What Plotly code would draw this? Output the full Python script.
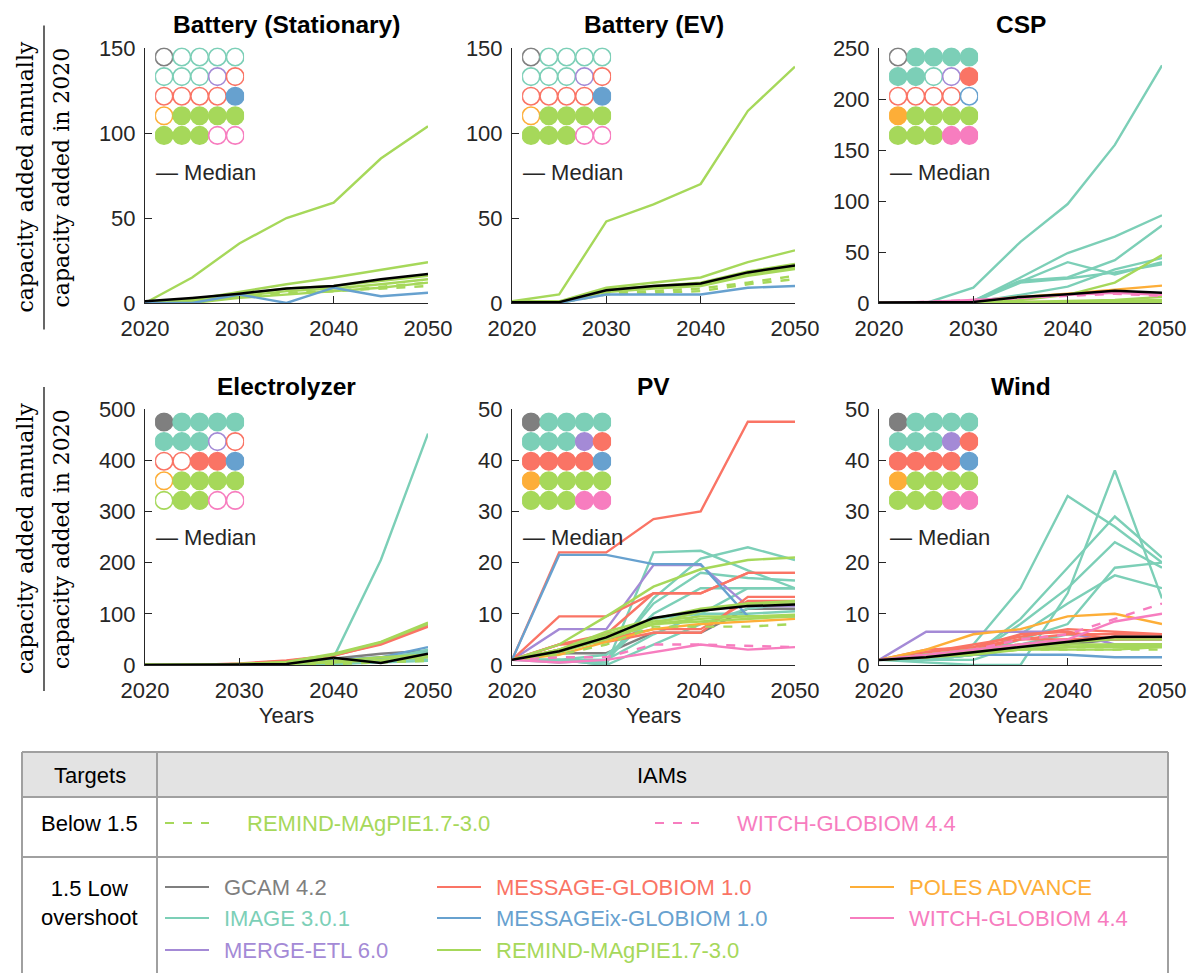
import plotly.graph_objects as go

W, H = 1189, 973
YEARS = [2020, 2025, 2030, 2035, 2040, 2045, 2050]

COLORS = {
    "GCAM": "#7f7f7f", "IMAGE": "#7ccfb7", "MERGE": "#a48ad6", "MESSAGE": "#fa7465",
    "MESSAGEix": "#67a1cf", "POLES": "#fdae38", "REMIND": "#a6d85a", "WITCH": "#f77dbf",
}

GRID_MODELS = [
    ["GCAM", "IMAGE", "IMAGE", "IMAGE", "IMAGE"],
    ["IMAGE", "IMAGE", "IMAGE", "MERGE", "MESSAGE"],
    ["MESSAGE", "MESSAGE", "MESSAGE", "MESSAGE", "MESSAGEix"],
    ["POLES", "REMIND", "REMIND", "REMIND", "REMIND"],
    ["REMIND", "REMIND", "REMIND", "WITCH", "WITCH"],
]
FILL_BAT_STAT = [[0, 0, 0, 0, 0], [0, 0, 0, 0, 0], [0, 0, 0, 0, 1], [0, 1, 1, 1, 1], [1, 1, 1, 0, 0]]
FILL_BAT_EV = [[0, 0, 0, 0, 0], [0, 0, 0, 0, 0], [0, 0, 0, 0, 1], [0, 1, 1, 1, 1], [1, 1, 1, 0, 0]]
FILL_CSP = [[0, 1, 1, 1, 1], [1, 1, 0, 0, 1], [0, 0, 0, 0, 0], [1, 1, 1, 1, 1], [1, 1, 1, 1, 1]]
FILL_ELEC = [[1, 1, 1, 1, 1], [1, 1, 1, 0, 0], [0, 0, 1, 1, 1], [0, 1, 1, 1, 1], [0, 1, 1, 0, 0]]
FILL_PV = [[1, 1, 1, 1, 1]] * 5
FILL_WIND = [[1, 1, 1, 1, 1]] * 5

BAT_STAT_LINES = [
    ("REMIND", "solid", [0, 15, 35, 50, 59, 85, 104]),
    ("REMIND", "solid", [0, 2, 6.5, 11, 15, 19.5, 24]),
    ("REMIND", "solid", [0, 1, 5, 8.5, 10, 13, 16]),
    ("REMIND", "solid", [0, 0.5, 4, 7, 8.5, 11, 14]),
    ("REMIND", "solid", [0, 0, 3, 5, 7, 9, 12]),
    ("REMIND", "dash", [0, 0.5, 4, 6, 7, 8.5, 10]),
    ("REMIND", "dash", [0, 0.5, 3.5, 5.5, 7, 9.5, 12]),
    ("MESSAGEix", "solid", [0, 0, 5, 0, 9, 4, 6]),
]
BAT_STAT_MEDIAN = [1, 3, 5.5, 8.5, 10, 14, 17]

BAT_EV_LINES = [
    ("REMIND", "solid", [1, 5, 48, 58, 70, 113, 139]),
    ("REMIND", "solid", [1, 1, 9, 12, 15, 24, 31]),
    ("REMIND", "solid", [0, 0, 8, 10, 12, 18.5, 23]),
    ("REMIND", "solid", [0, 0, 7, 9, 11, 17, 21]),
    ("REMIND", "solid", [0, 0, 6.5, 8.5, 10, 16, 20]),
    ("REMIND", "dash", [0, 0, 6, 7, 8.5, 12, 16]),
    ("REMIND", "dash", [0, 0, 5, 6, 7, 11, 14]),
    ("MESSAGEix", "solid", [0, 0, 5, 5, 5, 9, 10]),
]
BAT_EV_MEDIAN = [0.5, 0.5, 7.5, 10, 11.5, 18, 22]

CSP_LINES = [
    ("IMAGE", "solid", [0, 0, 15, 60, 97, 155, 233]),
    ("IMAGE", "solid", [0, 0, 2, 25, 49, 65, 86]),
    ("IMAGE", "solid", [0, 0, 2, 22, 25, 42, 76]),
    ("IMAGE", "solid", [0, 0, 2, 21, 40, 28, 40]),
    ("IMAGE", "solid", [0, 0, 1, 20, 24, 30, 38]),
    ("IMAGE", "solid", [0, 0, 1, 8, 16, 33, 44]),
    ("MESSAGE", "solid", [0, 0, 0, 1, 1, 2, 2]),
    ("POLES", "solid", [0, 0, 2, 6, 9, 13, 17]),
    ("REMIND", "solid", [0, 0, 0, 3, 8, 20, 47]),
    ("REMIND", "solid", [0, 0, 0, 1, 2, 3, 6]),
    ("REMIND", "solid", [0, 0, 0, 0, 1, 2, 3]),
    ("REMIND", "solid", [0, 0, 0, 0, 1, 1, 2]),
    ("REMIND", "solid", [0, 0, 0, 0, 0, 1, 1]),
    ("REMIND", "dash", [0, 0, 0, 0, 1, 1, 2]),
    ("REMIND", "dash", [0, 0, 0, 0, 0, 1, 1]),
    ("WITCH", "solid", [0, 1, 3, 5, 8, 10, 8]),
    ("WITCH", "dash", [0, 1, 3, 5, 7, 9, 7]),
]
CSP_MEDIAN = [0.5, 0.5, 1, 6, 8.5, 12, 10]

ELEC_LINES = [
    ("GCAM", "solid", [0, 0, 1, 3, 13, 22, 28]),
    ("IMAGE", "solid", [0, 0, 0.5, 1, 15, 205, 452]),
    ("IMAGE", "solid", [0, 0, 0, 1, 5, 10, 30]),
    ("IMAGE", "solid", [0, 0, 0, 0, 3, 8, 20]),
    ("IMAGE", "solid", [0, 0, 0, 1, 4, 15, 25]),
    ("IMAGE", "solid", [0, 0, 1, 2, 6, 12, 10]),
    ("IMAGE", "solid", [0, 0, 0, 0, 2, 5, 8]),
    ("IMAGE", "solid", [0, 0, 0, 1, 3, 6, 15]),
    ("MESSAGE", "solid", [0, 0, 2, 8, 18, 42, 78]),
    ("MESSAGE", "solid", [0, 0, 3, 9, 19, 40, 75]),
    ("MESSAGEix", "solid", [0, 0, 1, 2, 10, 15, 35]),
    ("REMIND", "solid", [0, 0, 2, 6, 22, 45, 83]),
    ("REMIND", "solid", [0, 0, 2, 5, 20, 44, 80]),
    ("REMIND", "solid", [0, 0, 1, 3, 8, 15, 20]),
    ("REMIND", "solid", [0, 0, 1, 2, 5, 10, 15]),
    ("REMIND", "dash", [0, 0, 1, 2, 4, 8, 10]),
    ("REMIND", "dash", [0, 0, 0, 1, 2, 5, 8]),
]
ELEC_MEDIAN = [0, 0, 1, 2, 14, 4, 22]

PV_LINES = [
    ("GCAM", "solid", [1, 2.3, 2.3, 6.3, 6.3, 11, 11]),
    ("IMAGE", "solid", [1, 1, 0, 22, 22.3, 18.5, 15]),
    ("IMAGE", "solid", [1, 1, 0.5, 13, 20.8, 23, 20.5]),
    ("IMAGE", "solid", [1, 1, 1, 12, 18, 17, 16.5]),
    ("IMAGE", "solid", [1, 0.5, 1, 10, 15, 15, 15]),
    ("IMAGE", "solid", [1, 1, 1, 6, 10, 15, 15]),
    ("IMAGE", "solid", [1, 1, 0, 4, 8, 11, 12]),
    ("IMAGE", "solid", [1, 1, 2, 9, 10, 10, 10.5]),
    ("MERGE", "solid", [1, 7, 7, 19.5, 19.5, 11.5, 11.5]),
    ("MESSAGE", "solid", [1, 22, 22, 28.5, 30, 47.5, 47.5]),
    ("MESSAGE", "solid", [1, 9.5, 9.5, 14, 14, 18, 18]),
    ("MESSAGE", "solid", [1, 4, 6, 14, 14, 18, 18]),
    ("MESSAGE", "solid", [1, 4, 4.5, 6.3, 6.3, 13.3, 13.3]),
    ("MESSAGE", "solid", [1, 3, 5, 7, 7, 12.5, 12.5]),
    ("MESSAGEix", "solid", [1, 21.5, 21.5, 19.7, 19.7, 9.5, 9.5]),
    ("POLES", "solid", [1, 2, 4.5, 7, 8, 8.5, 9]),
    ("REMIND", "solid", [1, 4, 9.5, 15.3, 18.7, 20.5, 21]),
    ("REMIND", "solid", [1, 3, 6, 8.5, 9.5, 9.5, 9.5]),
    ("REMIND", "solid", [1, 3, 5.5, 8, 9, 9.5, 9.8]),
    ("REMIND", "solid", [1, 2.5, 5.5, 8, 8.5, 9, 9.5]),
    ("REMIND", "solid", [1, 3, 6.5, 9, 11, 12, 12]),
    ("REMIND", "solid", [1, 2.5, 5, 8, 10.5, 12, 12.5]),
    ("REMIND", "dash", [1, 2, 4, 7.5, 7.5, 7.5, 8]),
    ("WITCH", "solid", [1, 0.5, 1, 2.5, 4, 3, 3.5]),
    ("WITCH", "dash", [1, 1.5, 1.5, 4, 4, 3.8, 3.5]),
]
PV_MEDIAN = [1, 2.7, 5.4, 9.2, 10.6, 11.5, 11.8]

WIND_LINES = [
    ("GCAM", "solid", [1, 2, 3, 3.5, 4, 5, 5]),
    ("IMAGE", "solid", [1, 1, 4, 15, 33, 27, 20]),
    ("IMAGE", "solid", [1, 0.5, 0, 0, 14, 38, 13]),
    ("IMAGE", "solid", [1, 1, 2, 9, 19, 29, 21]),
    ("IMAGE", "solid", [1, 1, 2, 8, 15, 24, 19]),
    ("IMAGE", "solid", [1, 1, 2, 6, 12, 17.5, 15]),
    ("IMAGE", "solid", [1, 1, 2, 5, 8, 19, 20]),
    ("IMAGE", "solid", [1, 1, 1, 4, 6, 5, 5]),
    ("MERGE", "solid", [1, 6.5, 6.5, 6.5, 6.5, 4, 4]),
    ("MESSAGE", "solid", [1, 3, 3.5, 5, 6, 6, 6]),
    ("MESSAGE", "solid", [1, 2.5, 3.5, 6, 6.5, 5, 5]),
    ("MESSAGE", "solid", [1, 2, 3, 5, 5, 5, 5.5]),
    ("MESSAGE", "solid", [1, 2.5, 4, 5.5, 7, 6.5, 6]),
    ("MESSAGE", "solid", [1, 2, 3, 4, 5, 5.5, 5.5]),
    ("MESSAGEix", "solid", [1, 2, 2, 2, 2, 1.5, 1.5]),
    ("POLES", "solid", [1, 3, 6, 7, 9.5, 10, 8]),
    ("REMIND", "solid", [1, 2, 3, 3.5, 4, 4, 4]),
    ("REMIND", "solid", [1, 2, 2.5, 3, 3.5, 3.5, 3.5]),
    ("REMIND", "solid", [1, 1.5, 2, 3, 3.5, 4, 4]),
    ("REMIND", "solid", [1, 2, 3, 4, 4.5, 5, 5]),
    ("REMIND", "solid", [1, 1.5, 2.5, 3, 3, 3, 3.5]),
    ("REMIND", "dash", [1, 2, 2.5, 3, 3, 3, 3]),
    ("WITCH", "solid", [1, 2, 3, 4, 5, 8.5, 10]),
    ("WITCH", "dash", [1, 2, 3, 5, 6, 9, 12]),
]
WIND_MEDIAN = [1, 1.5, 2.5, 3.5, 4.5, 5.5, 5.5]

TITLES = ["Battery (Stationary)", "Battery (EV)", "CSP", "Electrolyzer", "PV", "Wind"]
Y_MAX = [150, 150, 250, 500, 50, 50]
Y_DTICK = [50, 50, 50, 100, 10, 10]
X_TICKS = [2020, 2030, 2040, 2050]

PANELS = [
    (BAT_STAT_LINES, BAT_STAT_MEDIAN, FILL_BAT_STAT),
    (BAT_EV_LINES, BAT_EV_MEDIAN, FILL_BAT_EV),
    (CSP_LINES, CSP_MEDIAN, FILL_CSP),
    (ELEC_LINES, ELEC_MEDIAN, FILL_ELEC),
    (PV_LINES, PV_MEDIAN, FILL_PV),
    (WIND_LINES, WIND_MEDIAN, FILL_WIND),
]

COL_LEFT = [145, 512, 879]
COL_W = 283
ROW_TOP = [48, 409]
ROW_BOT = [303, 665]
GRID_TOP = [57, 422]
PITCH_X, PITCH_Y = 17.8, 19.6

def px(x):
    return x / W

def py(y):
    return 1 - y / H

FONT = "Liberation Sans, Arial, sans-serif"
SERIF = "DejaVu Serif, Liberation Serif, serif"
AXC = "#262626"

fig = go.Figure()
layout = dict(
    template="none",
    width=W, height=H, autosize=False,
    margin=dict(l=0, r=0, t=0, b=0, pad=0, autoexpand=False),
    paper_bgcolor="white", plot_bgcolor="white",
    showlegend=False,
    font=dict(family=FONT, color=AXC, size=22),
)
annotations = []
shapes = []

for i, (lines, median, fill) in enumerate(PANELS):
    r, c = divmod(i, 3)
    n = i + 1
    xa = "x" if n == 1 else f"x{n}"
    ya = "y" if n == 1 else f"y{n}"
    xkey = "xaxis" if n == 1 else f"xaxis{n}"
    ykey = "yaxis" if n == 1 else f"yaxis{n}"
    left = COL_LEFT[c]
    layout[xkey] = dict(
        domain=[px(left), px(left + COL_W)], anchor=ya, range=[2020, 2050], automargin=False,
        tickvals=X_TICKS, ticks="inside", ticklen=7, tickwidth=1, tickcolor=AXC,
        showline=True, linecolor=AXC, linewidth=1, showgrid=False, zeroline=False,
        tickfont=dict(size=22, color=AXC, family=FONT), ticklabelstandoff=6,
        title=dict(text="Years" if r == 1 else "", font=dict(size=22, color=AXC), standoff=4),
    )
    layout[ykey] = dict(
        domain=[py(ROW_BOT[r]), py(ROW_TOP[r])], anchor=xa, range=[0, Y_MAX[i]], automargin=False,
        dtick=Y_DTICK[i], tick0=0, ticks="inside", ticklen=7, tickwidth=1, tickcolor=AXC,
        showline=True, linecolor=AXC, linewidth=1, showgrid=False, zeroline=False,
        tickfont=dict(size=22, color=AXC, family=FONT), ticklabelstandoff=4,
    )
    for model, dash, vals in lines:
        fig.add_trace(go.Scatter(
            x=YEARS, y=vals, mode="lines", xaxis=xa, yaxis=ya,
            line=dict(color=COLORS[model], width=2.4, dash=dash), hoverinfo="skip"))
    fig.add_trace(go.Scatter(
        x=YEARS, y=median, mode="lines", xaxis=xa, yaxis=ya,
        line=dict(color="black", width=2.5), hoverinfo="skip"))

    annotations.append(dict(
        text=f"<b>{TITLES[i]}</b>", x=px(left + COL_W / 2), y=py(ROW_TOP[r] - 23),
        xref="paper", yref="paper", showarrow=False, xanchor="center", yanchor="middle",
        font=dict(size=24.5, color="black", family=FONT)))
    annotations.append(dict(
        text="\u2014 Median", x=px(left + 9), y=py(GRID_TOP[r] + 4 * PITCH_Y + 37),
        xref="paper", yref="paper", showarrow=False, xanchor="left", yanchor="middle",
        font=dict(size=22, color=AXC, family=FONT)))

    gn = n + 6
    gx0 = left + 19 - PITCH_X / 2
    gy0 = GRID_TOP[r] - PITCH_Y / 2
    layout[f"xaxis{gn}"] = dict(domain=[px(gx0), px(gx0 + 5 * PITCH_X)], range=[0.5, 5.5],
                                anchor=f"y{gn}", visible=False, fixedrange=True, automargin=False)
    layout[f"yaxis{gn}"] = dict(domain=[py(gy0 + 5 * PITCH_Y), py(gy0)], range=[5.5, 0.5],
                                anchor=f"x{gn}", visible=False, fixedrange=True, automargin=False)
    gxs, gys, fills, lcols = [], [], [], []
    for rr in range(5):
        for cc in range(5):
            col = COLORS[GRID_MODELS[rr][cc]]
            gxs.append(cc + 1)
            gys.append(rr + 1)
            fills.append(col if fill[rr][cc] else "white")
            lcols.append(col)
    fig.add_trace(go.Scatter(
        x=gxs, y=gys, mode="markers", xaxis=f"x{gn}", yaxis=f"y{gn}", hoverinfo="skip",
        marker=dict(symbol="circle", size=17.5, color=fills, line=dict(color=lcols, width=1.6))))

for r in range(2):
    cy = (ROW_TOP[r] + ROW_BOT[r]) / 2 + 2
    annotations.append(dict(text="capacity added annually", x=px(25), y=py(cy), xref="paper", yref="paper",
                            showarrow=False, textangle=-90, xanchor="center", yanchor="middle",
                            font=dict(size=22, color="black", family=SERIF)))
    annotations.append(dict(text="capacity added in 2020", x=px(61), y=py(cy), xref="paper", yref="paper",
                            showarrow=False, textangle=-90, xanchor="center", yanchor="middle",
                            font=dict(size=22, color="black", family=SERIF)))
    shapes.append(dict(type="line", xref="paper", yref="paper", x0=px(44), x1=px(44),
                       y0=py(cy - 152), y1=py(cy + 152), line=dict(color="black", width=1.2)))

TBL_L, TBL_R, TBL_T = 22, 1168, 752
ROW1_B, ROW2_B, TBL_B = 797, 857, 990
DIV_X = 157
BORDER = "#a0a0a0"
shapes.append(dict(type="rect", xref="paper", yref="paper", x0=px(TBL_L), x1=px(TBL_R),
                   y0=py(ROW1_B), y1=py(TBL_T), fillcolor="#e3e3e3", line=dict(width=0), layer="below"))
for (x0, y0, x1, y1) in [
    (TBL_L, TBL_T, TBL_R, TBL_T), (TBL_L, ROW1_B, TBL_R, ROW1_B), (TBL_L, ROW2_B, TBL_R, ROW2_B),
    (TBL_L, TBL_T, TBL_L, TBL_B), (TBL_R, TBL_T, TBL_R, TBL_B), (DIV_X, TBL_T, DIV_X, TBL_B),
]:
    shapes.append(dict(type="line", xref="paper", yref="paper", x0=px(x0), x1=px(x1),
                       y0=py(y0), y1=py(y1), line=dict(color=BORDER, width=2)))

def txt(s, x, y, color=AXC, anchor="left", size=22):
    annotations.append(dict(text=s, x=px(x), y=py(y), xref="paper", yref="paper", showarrow=False,
                            xanchor=anchor, yanchor="middle", font=dict(size=size, color=color, family=FONT)))

txt("Targets", 90, 775, "black", "center")
txt("IAMs", 662, 775, "black", "center")
txt("Below 1.5", 90, 823, "black", "center")
txt("1.5 Low<br>overshoot", 90, 903, "black", "center")

LEGEND_DASHED = [("REMIND", "REMIND-MAgPIE1.7-3.0", 165, 245), ("WITCH", "WITCH-GLOBIOM 4.4", 655, 735)]
for model, label, lx, tx in LEGEND_DASHED:
    shapes.append(dict(type="line", xref="paper", yref="paper", x0=px(lx), x1=px(lx + 44),
                       y0=py(823), y1=py(823), line=dict(color=COLORS[model], width=2, dash="dash")))
    txt(label, tx, 823, COLORS[model])

LEGEND_SOLID = [
    ("GCAM", "GCAM 4.2", 0, 0), ("IMAGE", "IMAGE 3.0.1", 0, 1), ("MERGE", "MERGE-ETL 6.0", 0, 2),
    ("MESSAGE", "MESSAGE-GLOBIOM 1.0", 1, 0), ("MESSAGEix", "MESSAGEix-GLOBIOM 1.0", 1, 1),
    ("REMIND", "REMIND-MAgPIE1.7-3.0", 1, 2), ("POLES", "POLES ADVANCE", 2, 0),
    ("WITCH", "WITCH-GLOBIOM 4.4", 2, 1),
]
LEG_COL_X = [165, 437, 850]
LEG_ROW_Y = [887, 918, 950]
for model, label, cc, rr in LEGEND_SOLID:
    lx, ly = LEG_COL_X[cc], LEG_ROW_Y[rr]
    shapes.append(dict(type="line", xref="paper", yref="paper", x0=px(lx), x1=px(lx + 44),
                       y0=py(ly), y1=py(ly), line=dict(color=COLORS[model], width=2)))
    txt(label, lx + 57, ly, COLORS[model])

layout["annotations"] = annotations
layout["shapes"] = shapes
fig.update_layout(**layout)
fig.write_html(
    "out.html",
    config={"displayModeBar": False},
    post_script="document.body.style.margin='0';document.body.style.overflow='hidden';",
)
